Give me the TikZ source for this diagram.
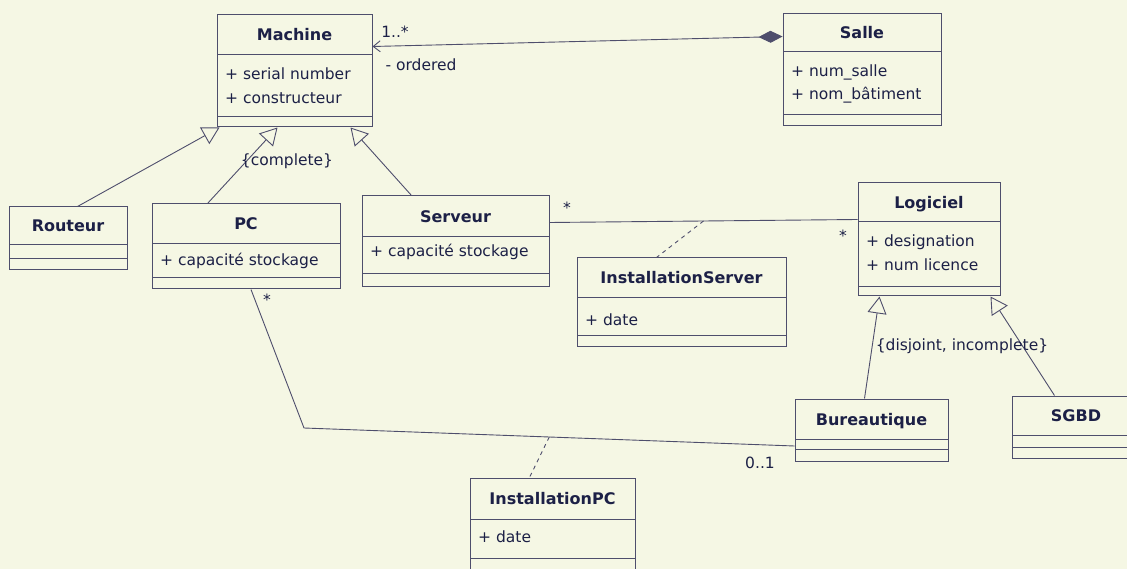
\documentclass[tikz,border=0pt]{standalone}
\usepackage{fontspec}
\setmainfont{DejaVu Sans}
\usetikzlibrary{arrows.meta,calc}

\definecolor{paper}{RGB}{245,247,228}
\definecolor{ink}{RGB}{28,32,70}
\definecolor{rule}{RGB}{78,78,108}

\tikzset{
  classbox/.style={draw=rule, line width=1pt, rectangle, inner sep=0pt},
  boxline/.style={draw=rule, line width=1pt},
  classtitle/.style={font=\fontsize{16}{19}\selectfont\bfseries, text=ink, inner sep=0pt, anchor=base},
  classattr/.style={font=\fontsize{15.5}{19}\selectfont, text=ink, inner sep=0pt, anchor=base west},
  lbl/.style={font=\fontsize{15.5}{19}\selectfont, text=ink, inner sep=0pt},
  conn/.style={draw=rule, line width=0.9pt},
  gen/.style={conn, -{Triangle[open, length=17pt, width=19pt]}},
  dashlink/.style={conn, dashed, dash pattern=on 4pt off 4pt},
}

% class box: name, x1, y1, x2, y2, first divider, second divider, title
\newcommand{\umlclass}[8]{%
  \node[classbox, minimum width={(#4-#2)*1pt}, minimum height={(#5-#3)*1pt}]
    (#1) at ({(#2+#4)/2},{(#3+#5)/2}) {};
  \draw[boxline] (#2,#6) -- (#4,#6) (#2,#7) -- (#4,#7);
  \node[classtitle] (#1-title) at ({(#2+#4)/2},{(#3+#6)/2+6}) {#8};
}

\begin{document}
\begin{tikzpicture}[x=1pt,y=-1pt]
\useasboundingbox (0,0) rectangle (1127,569);
\fill[paper] (0,0) rectangle (1127,569);
\clip (0,0) rectangle (1127,569);

% classes
\umlclass{Machine}{217}{15}{372}{127}{55}{117}{Machine}
\node[classattr] (Machine-a1) at (225,80) {+ serial number};
\node[classattr] (Machine-a2) at (225,104) {+ constructeur};

\umlclass{Salle}{783}{14}{941}{126}{52}{115}{Salle}
\node[classattr] (Salle-a1) at (791,77) {+ num\_salle};
\node[classattr] (Salle-a2) at (791,100) {+ nom\_bâtiment};

\umlclass{Routeur}{9}{207}{127}{270}{245}{259}{Routeur}

\umlclass{PC}{152}{204}{340}{289}{244}{278}{PC}
\node[classattr] (PC-a1) at (160,266) {+ capacité stockage};

\umlclass{Serveur}{362}{196}{549}{287}{237}{274}{Serveur}
\node[classattr] (Serveur-a1) at (370,257) {+ capacité stockage};

\umlclass{Logiciel}{858}{183}{1000}{296}{222}{287}{Logiciel}
\node[classattr] (Logiciel-a1) at (866,247) {+ designation};
\node[classattr] (Logiciel-a2) at (866,271) {+ num licence};

\umlclass{InstallationServer}{577}{258}{786}{346}{298}{335}{InstallationServer}
\node[classattr] (InstallationServer-a1) at (585,326) {+ date};

\umlclass{Bureautique}{795}{399}{948}{461}{439}{449}{Bureautique}

\umlclass{SGBD}{1012}{396}{1140}{458}{435}{447}{SGBD}

\umlclass{InstallationPC}{470}{478}{635}{590}{519}{558}{InstallationPC}
\node[classattr] (InstallationPC-a1) at (478,542) {+ date};

% Salle aggregates its machines
\draw[conn, {Straight Barb[length=7pt,width=11pt]}-{Diamond[length=24pt,width=12pt]}]
  ([yshift=-32pt]Machine.north east) -- ([yshift=-23pt]Salle.north west);
\node[lbl] (mult-machine) at (395,32) {1..*};
\node[lbl] (ordered) at (421,65) {- ordered};

% specialisations of Machine
\draw[gen] ([xshift=69pt]Routeur.north west) -- ([xshift=3pt]Machine.south west);
\draw[gen] ([xshift=56pt]PC.north west) -- ([xshift=61pt]Machine.south west);
\draw[gen] ([xshift=50pt]Serveur.north west) -- ([xshift=-22pt]Machine.south east);
\node[lbl] (complete) at (287,161) {\{complete\}};

% Serveur -- Logiciel with its association class
\draw[conn] ([yshift=-27pt]Serveur.north east)
  -- coordinate[pos=0.5] (srvmid) ([yshift=-37pt]Logiciel.north west);
\node[lbl] (mult-srv) at (567,208) {*};
\node[lbl] (mult-log) at (843,236) {*};
\draw[dashlink] (srvmid) -- ([xshift=80pt]InstallationServer.north west);

% PC -- Bureautique with its association class
\coordinate (pcbend) at (304,428);
\draw[conn] ([xshift=5pt]PC.south) -- (pcbend)
  -- coordinate[pos=0.5] (pcmid) ([yshift=-16pt]Bureautique.west);
\node[lbl] (mult-pc) at (267,300) {*};
\node[lbl] (mult-bur) at (760,463) {0..1};
\draw[dashlink] (pcmid) -- ([xshift=60pt]InstallationPC.north west);

% specialisations of Logiciel
\draw[gen] ([xshift=70pt]Bureautique.north west) -- ([xshift=22pt]Logiciel.south west);
\draw[gen] ([xshift=43pt]SGBD.north west) -- ([xshift=-10pt]Logiciel.south east);
\node[lbl] (disjoint) at (962,346) {\{disjoint, incomplete\}};
\end{tikzpicture}
\end{document}
